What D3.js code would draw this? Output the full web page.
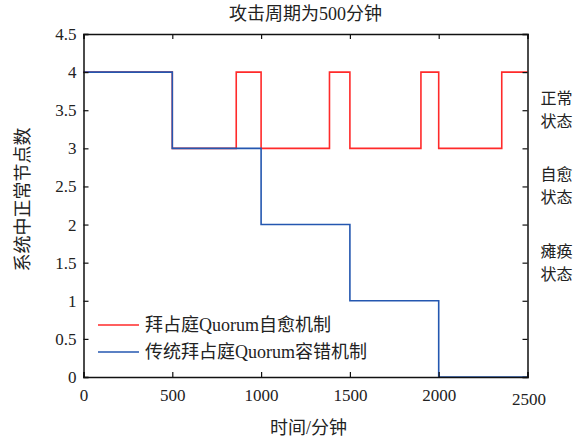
<!DOCTYPE html>
<html lang="zh">
<head>
    <meta charset="UTF-8">
    <title>攻击周期为500分钟</title>
    <script src="https://d3js.org/d3.v7.min.js"></script>
    <style>
        body { margin: 0; background: #fff; }
        text { font-family: "Liberation Serif", "Noto Sans CJK SC", serif; fill: #222; }
    </style>
</head>
<body>
    <script>
        // step data: [time, nodes] -- step changes happen at each point
        var healTimes = [0, 500, 860, 1000, 1385, 1500, 1900, 2000, 2355, 2500];
        var healNodes = [4, 3, 4, 3, 4, 3, 4, 3, 4, 4];
        var tradTimes = [0, 500, 1000, 1500, 2000, 2500];
        var tradNodes = [4, 3, 2, 1, 0, 0];

        var seriesNames = ['拜占庭Quorum自愈机制', '传统拜占庭Quorum容错机制'];
        var seriesColors = ['#ff2a2a', '#2457b0'];

        var xTicks = [0, 500, 1000, 1500, 2000, 2500];
        var yTicks = [0, 0.5, 1, 1.5, 2, 2.5, 3, 3.5, 4, 4.5];

        // state labels on the right, centred on these y values
        var stateLabels = [['正常', '状态'], ['自愈', '状态'], ['瘫痪', '状态']];
        var stateLevels = [3.5, 2.5, 1.5];

        var w = 580, h = 442;
        var margin = {left: 83.5, right: 52.5, top: 34, bottom: 65};

        var svg = d3.select('body').append('svg')
            .attr('width', w)
            .attr('height', h);

        var xScale = d3.scaleLinear()
            .domain([0, 2500])
            .range([margin.left, w - margin.right]);
        var yScale = d3.scaleLinear()
            .domain([0, 4.5])
            .range([h - margin.bottom, margin.top]);

        function toPoints(xs, ys) {
            return xs.map(function(x, i) { return [x, ys[i]]; });
        }

        var line = d3.line()
            .x(function(d) { return xScale(d[0]); })
            .y(function(d) { return yScale(d[1]); })
            .curve(d3.curveStepAfter);

        var series = [toPoints(healTimes, healNodes), toPoints(tradTimes, tradNodes)];

        svg.selectAll('.series')
            .data(series)
            .enter()
            .append('path')
            .attr('class', 'series')
            .attr('d', line)
            .attr('fill', 'none')
            .attr('stroke', function(d, i) { return seriesColors[i]; })
            .attr('stroke-width', 1.6);

        // axes, ticks inward on all four sides
        var tickLen = 5;
        var fmt = d3.format('~g');
        var axBottom = svg.append('g')
            .attr('transform', 'translate(0,' + yScale(0) + ')')
            .call(d3.axisBottom(xScale).tickValues(xTicks).tickSize(-tickLen).tickPadding(12).tickFormat(fmt));
        var axTop = svg.append('g')
            .attr('transform', 'translate(0,' + yScale(4.5) + ')')
            .call(d3.axisTop(xScale).tickValues(xTicks).tickSize(-tickLen).tickFormat(''));
        var axLeft = svg.append('g')
            .attr('transform', 'translate(' + xScale(0) + ',0)')
            .call(d3.axisLeft(yScale).tickValues(yTicks).tickSize(-tickLen).tickPadding(7).tickFormat(fmt));
        var axRight = svg.append('g')
            .attr('transform', 'translate(' + xScale(2500) + ',0)')
            .call(d3.axisRight(yScale).tickValues(yTicks).tickSize(-tickLen).tickFormat(''));

        [axBottom, axTop, axLeft, axRight].forEach(function(g) {
            g.attr('font-family', null);
            g.select('.domain').attr('stroke', '#111').attr('stroke-width', 1.5);
            g.selectAll('.tick line').attr('stroke', '#111').attr('stroke-width', 1.2);
            g.selectAll('.tick text')
                .style('font-size', '17px')
                .style('font-family', '"Liberation Serif", "Times New Roman", serif')
                .attr('fill', '#222');
        });
        // last x label sits a bit lower in the original
        axBottom.selectAll('.tick text')
            .filter(function(d) { return d === 2500; })
            .attr('dy', '0.93em')
            .attr('dx', '1');

        svg.append('text')
            .attr('x', (xScale(0) + xScale(2500)) / 2)
            .attr('y', 20)
            .attr('text-anchor', 'middle')
            .style('font-size', '18px')
            .text('攻击周期为500分钟');

        svg.append('text')
            .attr('x', (xScale(0) + xScale(2500)) / 2 + 3)
            .attr('y', 434)
            .attr('text-anchor', 'middle')
            .style('font-size', '18px')
            .text('时间/分钟');

        svg.append('text')
            .attr('transform', 'translate(29,' + ((yScale(0) + yScale(4.5)) / 2 - 6) + ') rotate(-90)')
            .attr('text-anchor', 'middle')
            .style('font-size', '18px')
            .text('系统中正常节点数');

        // right-side state labels
        var states = svg.selectAll('.state')
            .data(stateLabels)
            .enter()
            .append('text')
            .attr('class', 'state')
            .attr('x', xScale(2500) + 13)
            .attr('y', function(d, i) { return yScale(stateLevels[i]) - 6; })
            .style('font-size', '16px');
        states.append('tspan')
            .attr('x', xScale(2500) + 13)
            .text(function(d) { return d[0]; });
        states.append('tspan')
            .attr('x', xScale(2500) + 13)
            .attr('dy', 23)
            .text(function(d) { return d[1]; });

        // legend
        var legend = svg.selectAll('.legend')
            .data(seriesNames)
            .enter()
            .append('g')
            .attr('class', 'legend')
            .attr('transform', function(d, i) { return 'translate(98,' + (325 + i * 27) + ')'; });
        legend.append('line')
            .attr('x1', 0).attr('x2', 41)
            .attr('stroke', function(d, i) { return seriesColors[i]; })
            .attr('stroke-width', 1.6);
        legend.append('text')
            .attr('x', 47)
            .attr('y', 6)
            .style('font-size', '18px')
            .text(function(d) { return d; });
    </script>
</body>
</html>
